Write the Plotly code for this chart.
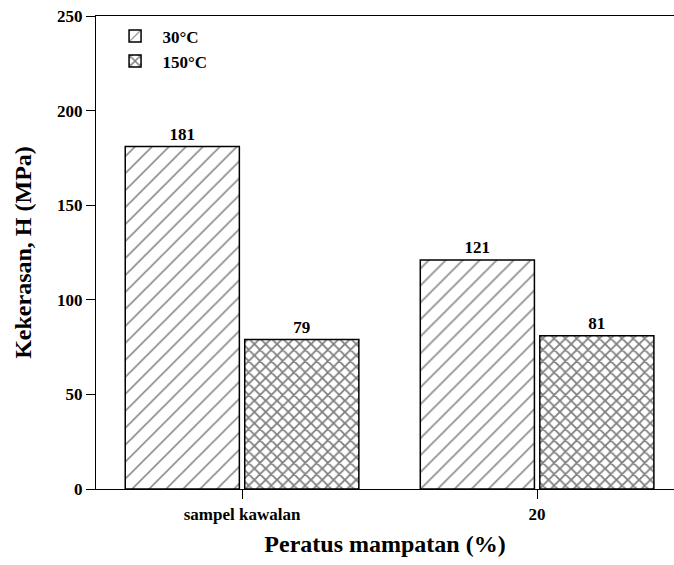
import plotly.graph_objects as go

categories = ["sampel kawalan", "20"]
series_names = ["30°C", "150°C"]
values_30 = [181, 121]
values_150 = [79, 81]

font_family = "Liberation Serif, Times New Roman, serif"

fig = go.Figure()
fig.add_trace(go.Bar(
    x=categories, y=values_30, name="<b>" + series_names[0] + "</b>",
    marker=dict(color="white", line=dict(color="black", width=1.5),
                pattern=dict(shape="/", fgcolor="black", bgcolor="white", size=12, solidity=0.13)),
    text=[f"<b>{v}</b>" for v in values_30], textposition="outside",
    textfont=dict(family=font_family, size=17, color="black"), cliponaxis=False,
))
fig.add_trace(go.Bar(
    x=categories, y=values_150, name="<b>" + series_names[1] + "</b>",
    marker=dict(color="white", line=dict(color="black", width=1.5),
                pattern=dict(shape="x", fgcolor="black", bgcolor="white", size=8, solidity=0.4)),
    text=[f"<b>{v}</b>" for v in values_150], textposition="outside",
    textfont=dict(family=font_family, size=17, color="black"), cliponaxis=False,
))

fig.update_layout(
    width=674, height=565,
    margin=dict(l=96, r=0, t=16, b=76),
    paper_bgcolor="white", plot_bgcolor="white",
    barmode="group", bargap=0.19, bargroupgap=0.045,
    font=dict(family=font_family, color="black"),
    showlegend=True,
    legend=dict(x=0.02, y=0.995, xanchor="left", yanchor="top",
                bgcolor="rgba(0,0,0,0)", font=dict(size=17, family=font_family),
                itemwidth=45, tracegroupgap=0),
    xaxis=dict(
        range=[-0.495, 1.464], showline=True, linecolor="black", linewidth=1.2,
        mirror=True, ticks="outside", ticklen=9, tickcolor="black",
        tickfont=dict(size=17, family=font_family),
        tickvals=categories, ticktext=[f"<b>{c}</b>" for c in categories],
        title=dict(text="<b>Peratus mampatan (%)</b>", font=dict(size=24, family=font_family), standoff=12),
        showgrid=False, automargin=False,
    ),
    yaxis=dict(
        range=[0, 250], dtick=50, showline=True, linecolor="black", linewidth=1.2,
        ticks="outside", ticklen=9, tickcolor="black",
        tickfont=dict(size=17, family=font_family),
        tickprefix="<b>", ticksuffix="</b>",
        title=dict(text="<b>Kekerasan, H (MPa)</b>", font=dict(size=24, family=font_family), standoff=18),
        showgrid=False, zeroline=False, automargin=False,
    ),
)

fig.write_html("out.html")
